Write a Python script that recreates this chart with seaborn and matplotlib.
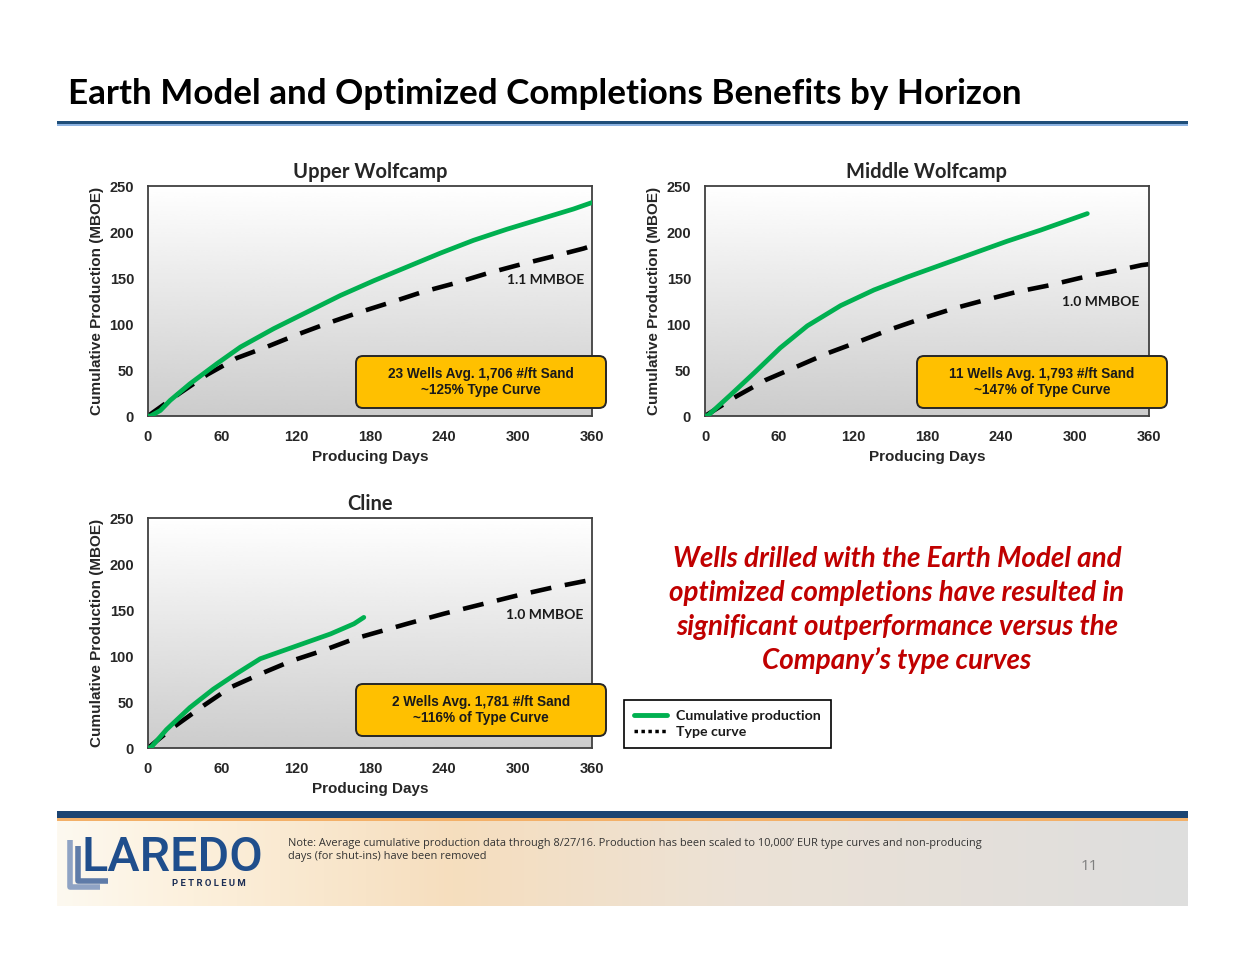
import numpy as np
import pandas as pd
import matplotlib
matplotlib.use("Agg")
import matplotlib.pyplot as plt
import seaborn as sns
from matplotlib.patches import FancyBboxPatch, Rectangle
from matplotlib.lines import Line2D

# ---------------- data ----------------
uw_prod_days = [0, 2, 10, 18, 34, 56, 75, 102, 129, 156, 183, 210, 237, 264, 291, 318, 345, 360]
uw_prod_vals = [0, 0, 6, 17, 35, 57, 75, 95, 113, 131, 147, 162, 177, 191, 203, 214, 225, 232]
uw_type_days = [0, 26, 48, 72, 96, 120, 146, 172, 198, 223, 248, 275, 300, 327, 353, 360]
uw_type_vals = [0, 25, 45, 63, 75, 88, 101, 113, 124, 135, 144, 155, 164, 173, 182, 185]

mw_prod_days = [0, 2, 20, 40, 61, 83, 110, 137, 164, 191, 218, 245, 272, 291, 310]
mw_prod_vals = [0, 0, 22, 47, 74, 98, 120, 137, 151, 164, 177, 190, 202, 211, 220]
mw_type_days = [0, 25, 49, 75, 99, 125, 150, 176, 202, 227, 253, 279, 304, 330, 354, 360]
mw_type_vals = [0, 21, 39, 54, 68, 81, 94, 106, 117, 126, 135, 142, 150, 157, 164, 165]

cl_prod_days = [0, 2, 15, 34, 53, 72, 91, 110, 129, 148, 167, 175]
cl_prod_vals = [0, 0, 20, 44, 64, 81, 97, 106, 115, 124, 135, 142]
cl_type_days = [0, 20, 45, 67, 92, 117, 142, 168, 210, 240, 270, 300, 330, 360]
cl_type_vals = [0, 22, 46, 66, 81, 95, 106, 119, 135, 146, 156, 166, 175, 183]

panel_titles = ["Upper Wolfcamp", "Middle Wolfcamp", "Cline"]
eur_labels = ["1.1 MMBOE", "1.0 MMBOE", "1.0 MMBOE"]
box_texts = ["23 Wells Avg. 1,706 #/ft Sand\n~125% Type Curve",
             "11 Wells Avg. 1,793 #/ft Sand\n~147% of Type Curve",
             "2 Wells Avg. 1,781 #/ft Sand\n~116% of Type Curve"]
x_ticks = [0, 60, 120, 180, 240, 300, 360]
y_ticks = [0, 50, 100, 150, 200, 250]

main_title = "Earth Model and Optimized Completions Benefits by Horizon"
message_lines = ["Wells drilled with the Earth Model and",
                 "optimized completions have resulted in",
                 "significant outperformance versus the",
                 "Company\u2019s type curves"]
note_text = ("Note: Average cumulative production data through 8/27/16. Production has been scaled to 10,000\u2019 EUR type curves and non-producing\n"
             "days (for shut-ins) have been removed")

# ---------------- style ----------------
sns.set_theme(style="white")
plt.rcParams['font.family'] = ['Liberation Sans', 'DejaVu Sans']

W, H = 1244, 961
GREEN = "#00B050"
GOLD = "#FFC000"
NAVY = "#1B4472"

fig = plt.figure(figsize=(W / 100, H / 100), dpi=100)
fig.patch.set_facecolor("white")


def fx(px):
    return px / W


def fy(py):
    return 1 - py / H


# title
fig.text(fx(68), fy(94), main_title, fontsize=25.2, fontweight='bold', family='Lato',
         ha='left', va='center', color='black')
fig.add_artist(Rectangle((fx(57), fy(124)), fx(1188) - fx(57), 3 / H, transform=fig.transFigure,
                         color="#1F4E79", lw=0))
fig.add_artist(Rectangle((fx(57), fy(126)), fx(1188) - fx(57), 1.5 / H, transform=fig.transFigure,
                         color="#8DB3E2", lw=0))

# axes positions (left, top px)
panels = [
    (148, 186, uw_prod_days, uw_prod_vals, uw_type_days, uw_type_vals, (356, 356), (322, 148)),
    (705, 186, mw_prod_days, mw_prod_vals, mw_type_days, mw_type_vals, (917, 356), (321, 124)),
    (148, 518, cl_prod_days, cl_prod_vals, cl_type_days, cl_type_vals, (356, 684), (322, 145)),
]
AXW, AXH = 444, 230

grad = np.linspace(1.0, 0.80, 256).reshape(-1, 1)

for i, (lx, ty, pd_, pv, td, tv, boxpos, eurpos) in enumerate(panels):
    ax = fig.add_axes([fx(lx), fy(ty + AXH), AXW / W, AXH / H])
    ax.imshow(grad, extent=[0, 360, 0, 250], aspect='auto', cmap='gray', vmin=0, vmax=1,
              zorder=0, interpolation='bicubic')
    prod = pd.DataFrame({"days": pd_, "mboe": pv})
    typ = pd.DataFrame({"days": td, "mboe": tv})
    sns.lineplot(data=typ, x="days", y="mboe", ax=ax, color="black", lw=3.3,
                 linestyle=(0, (4.6, 3.0)), zorder=2, solid_joinstyle='round')
    sns.lineplot(data=prod, x="days", y="mboe", ax=ax, color=GREEN, lw=3.4, zorder=3,
                 solid_joinstyle='round', solid_capstyle='round')
    ax.set_xlim(0, 360)
    ax.set_ylim(0, 250)
    ax.set_xticks(x_ticks)
    ax.set_yticks(y_ticks)
    ax.tick_params(length=0, labelsize=10.5, pad=10)
    for lab in ax.get_xticklabels() + ax.get_yticklabels():
        lab.set_fontweight('bold')
    ax.set_xlabel("Producing Days", fontsize=11, fontweight='bold')
    ax.set_ylabel("Cumulative Production (MBOE)", fontsize=11, fontweight='bold')
    ax.xaxis.set_label_coords(0.5, -34 / AXH)
    ax.yaxis.set_label_coords(-44 / AXW, 0.5)
    for sp in ax.spines.values():
        sp.set_color("#404040")
        sp.set_linewidth(1.3)
    ax.grid(False)
    ax.set_title(panel_titles[i], fontsize=14.5, fontweight='bold', family='Lato', pad=6)
    ax.text(eurpos[0], eurpos[1], eur_labels[i], fontsize=10, fontweight='bold', family='Lato',
            ha='center', va='center', color='#1a1a1a', zorder=4)

    bx, by = boxpos
    bw, bh = 250, 52
    box = FancyBboxPatch((bx / 100, (H - by - bh) / 100), bw / 100, bh / 100,
                         boxstyle="round,pad=0,rounding_size=0.07",
                         transform=fig.dpi_scale_trans, facecolor=GOLD,
                         edgecolor="#262626", lw=1.4, zorder=5)
    fig.add_artist(box)
    fig.text(fx(bx + bw / 2), fy(by + bh / 2), box_texts[i], fontsize=9.8, fontweight='bold',
             ha='center', va='center', linespacing=1.25, color='#1a1a1a', zorder=6)

# legend
handles = [Line2D([], [], color=GREEN, lw=3.5),
           Line2D([], [], color='black', lw=2.5, linestyle=(0, (1, 1)))]
leg = fig.legend(handles, ["Cumulative production", "Type curve"], loc='upper left',
                 bbox_to_anchor=(fx(624), fy(700)), frameon=True, fancybox=False,
                 edgecolor='black', framealpha=1, borderaxespad=0, handlelength=2.3,
                 handletextpad=0.7, borderpad=0.7, labelspacing=0.3,
                 prop={'family': 'Lato', 'weight': 'bold', 'size': 10.2})
leg.get_frame().set_linewidth(1.2)
for t in leg.get_texts():
    t.set_color('#1a1a1a')

# red message
for k, line in enumerate(message_lines):
    fig.text(fx(897), fy(559 + 34 * k), line, fontsize=20, fontweight='bold', style='italic',
             family='Lato', color="#C00000", ha='center', va='center')

# footer
fig.add_artist(Rectangle((fx(57), fy(818)), fx(1188) - fx(57), 7 / H, transform=fig.transFigure,
                         color=NAVY, lw=0))
fig.add_artist(Rectangle((fx(57), fy(821)), fx(1188) - fx(57), 3 / H, transform=fig.transFigure,
                         color="#F3B068", lw=0))
fax = fig.add_axes([fx(57), fy(906), (1188 - 57) / W, 85 / H], zorder=-1)
stops = np.array([0.0, 0.12, 0.35, 0.6, 1.0])
cols = np.array([[253, 249, 240], [252, 240, 220], [246, 222, 190], [236, 226, 214], [222, 222, 222]]) / 255.0
xs = np.linspace(0, 1, 512)
img = np.stack([np.interp(xs, stops, cols[:, c]) for c in range(3)], axis=-1)[None, :, :]
fax.imshow(img, aspect='auto', extent=[0, 1, 0, 1])
fax.axis('off')

# logo
for dx, dy, c in [(0, 0, "#8FA3C4"), (8, -6, "#5E7BA8")]:
    fig.add_artist(Line2D([fx(70 + dx), fx(70 + dx), fx(100 + dx)],
                          [fy(840 - dy), fy(887 + dy), fy(887 + dy)],
                          transform=fig.transFigure, color=c, lw=4, solid_capstyle='butt'))
fig.text(fx(82), fy(858), "LAREDO", fontsize=35, family='Roboto', fontweight='medium',
         color="#1F4E8C", ha='left', va='center')
fig.text(fx(172), fy(884), "P E T R O L E U M", fontsize=6.8, family='Roboto', fontweight='bold',
         color="#1C2E55", ha='left', va='center')

fig.text(fx(288), fy(850), note_text, fontsize=7.9, family='Open Sans', color='#333333',
         ha='left', va='center', linespacing=1.25)
fig.text(fx(1089), fy(866), "11", fontsize=11, family='Open Sans', color='#7F7F7F',
         ha='center', va='center')

fig.savefig("out.png", dpi=100)
